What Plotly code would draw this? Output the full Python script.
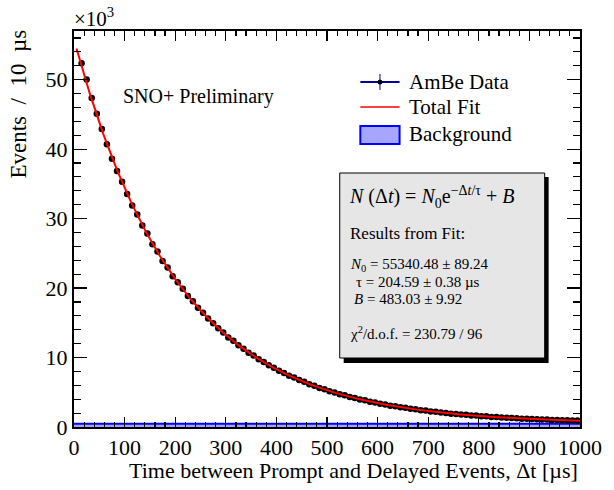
import numpy as np
import plotly.graph_objects as go

# ---------------- data ----------------
bin_width = 10.0
time_centers = [15 + 10 * i for i in range(99)]  # bin centres (us), first bin (0-10) empty/not shown
counts = [
    52350, 50020, 47350, 45100, 42900, 40700, 38600, 36850, 35300, 33550,
    31900, 30600, 29000, 27850, 26300, 25250, 23900, 22950, 21700, 20850,
    19900, 18850, 18100, 17150, 16450, 15600, 14950, 14200, 13620, 12900,
    12400, 11750, 11280, 10700, 10290, 9750, 9370, 8880, 8540, 8100,
    7790, 7390, 7120, 6750, 6500, 6160, 5940, 5630, 5430, 5150,
    4980, 4710, 4560, 4320, 4180, 3960, 3840, 3630, 3530, 3340,
    3250, 3070, 2990, 2830, 2760, 2610, 2550, 2410, 2360, 2230,
    2180, 2070, 2030, 1920, 1880, 1790, 1750, 1660, 1640, 1550,
    1530, 1450, 1430, 1360, 1345, 1280, 1265, 1200, 1195, 1135,
    1130, 1070, 1070, 1015, 1020, 965, 970, 920, 925,
]

# fit parameters (as printed on the chart)
N0, N0_err = 55340.48, 89.24
TAU, TAU_err = 204.59, 0.38
BKG, BKG_err = 483.03, 9.92
CHI2, NDOF = 230.79, 96
FIT_RANGE = [5, 1000]

bkg_edges = [10 * i for i in range(101)]
bkg_values = [BKG] * 101

x_ticks = list(range(0, 1001, 100))
y_ticks = [0, 10000, 20000, 30000, 40000, 50000]
y_ticktext = ["0", "10", "20", "30", "40", "50"]

# ---------------- figure ----------------
FONT = "Liberation Serif"
W, H = 614, 490
L, R, T, B = 74, 590, 31, 427  # plot frame in pixels


def px(x):
    return (x - L) / (R - L)


def py(y):
    return (B - y) / (B - T)


fig = go.Figure()

# background histogram
fig.add_trace(go.Scatter(
    x=bkg_edges, y=bkg_values, mode="lines", line_shape="hv",
    line=dict(color="rgb(0,0,255)", width=2),
    fill="tozeroy", fillcolor="rgb(166,166,255)", showlegend=False,
    hoverinfo="skip",
))

# data
err_y = [float(np.sqrt(c)) for c in counts]
fig.add_trace(go.Scatter(
    x=time_centers, y=counts, mode="markers",
    marker=dict(color="black", size=6.5),
    error_y=dict(type="data", array=err_y, color="black", thickness=1, width=0),
    error_x=dict(type="constant", value=bin_width / 2, color="black", thickness=1.2, width=0),
    showlegend=False,
))

# fit curve
xf = np.linspace(FIT_RANGE[0], FIT_RANGE[1], 600)
yf = N0 * np.exp(-xf / TAU) + BKG
fig.add_trace(go.Scatter(
    x=xf, y=yf, mode="lines", line=dict(color="red", width=2), showlegend=False,
))

axis_common = dict(
    showline=True, linecolor="black", linewidth=2, mirror="allticks",
    ticks="inside", tickcolor="black", tickwidth=1.2,
    showgrid=False, zeroline=False,
    tickfont=dict(family=FONT, size=22, color="black"),
)

fig.update_xaxes(
    range=[0, 1000], tickvals=x_ticks, ticklen=10,
    minor=dict(dtick=20, ticks="inside", ticklen=5, tickcolor="black", tickwidth=1.2, showgrid=False),
    **axis_common,
)
fig.update_yaxes(
    range=[0, 57000], tickvals=y_ticks, ticktext=y_ticktext, ticklen=13,
    minor=dict(dtick=2000, ticks="inside", ticklen=7, tickcolor="black", tickwidth=1.2, showgrid=False),
    **axis_common,
)

shapes = []
ann = []


def text(x, y, s, size, xanchor="left", yanchor="middle", textangle=0):
    ann.append(dict(
        xref="paper", yref="paper", x=px(x), y=py(y), text=s, showarrow=False,
        xanchor=xanchor, yanchor=yanchor, textangle=textangle,
        font=dict(family=FONT, size=size, color="black"),
    ))


def rect(x0, y0, x1, y1, fill, line_color, lw):
    shapes.append(dict(
        type="rect", xref="paper", yref="paper",
        x0=px(x0), x1=px(x1), y0=py(y1), y1=py(y0),
        fillcolor=fill, line=dict(color=line_color, width=lw), layer="above",
    ))


def line(x0, y0, x1, y1, color, lw):
    shapes.append(dict(
        type="line", xref="paper", yref="paper",
        x0=px(x0), x1=px(x1), y0=py(y0), y1=py(y1),
        line=dict(color=color, width=lw), layer="above",
    ))


# axis titles (ROOT style, right-aligned)
text(R, 470, "Time between Prompt and Delayed Events, Δt [µs]", 22, xanchor="right")
text(17, T - 3, "Events&nbsp;&nbsp;/&nbsp;&nbsp;10&nbsp;&nbsp;µs", 23, xanchor="center", yanchor="top", textangle=-90)
text(72, 17, "×10<sup>3</sup>", 21)

# label
text(122, 97, "SNO+ Preliminary", 20)

# legend
line(366, 82, 406, 82, "rgb(0,0,153)", 2)
line(386, 74, 386, 90, "rgb(0,0,153)", 1)
shapes.append(dict(type="circle", xref="paper", yref="paper",
                   x0=px(383.5), x1=px(388.5), y0=py(84.5), y1=py(79.5),
                   fillcolor="black", line=dict(color="black", width=0), layer="above"))
text(414, 82, "AmBe Data", 21)
line(366, 107, 406, 107, "red", 1.5)
text(414, 107, "Total Fit", 21)
rect(366, 126, 406, 144, "rgb(166,166,255)", "rgb(0,0,255)", 2)
text(414, 134, "Background", 21)

# fit box
rect(349, 177, 558, 363, "black", "black", 0)
rect(345, 173, 554, 358, "rgb(230,230,230)", "black", 1)
text(352, 197, "<i>N</i> (Δ<i>t</i>) = <i>N</i><sub>0</sub>e<sup>−Δ<i>t</i>/τ</sup> + <i>B</i>", 20)
text(353, 233, "Results from Fit:", 17)
text(353, 265, f"<i>N</i><sub>0</sub> = {N0:.2f} ± {N0_err:.2f}", 15)
text(360, 282, f"τ = {TAU:.2f} ± {TAU_err:.2f} µs", 15)
text(358, 299, f"<i>B</i> = {BKG:.2f} ± {BKG_err:.2f}", 15)
text(353, 333, f"χ<sup>2</sup>/d.o.f. = {CHI2:.2f} / {NDOF}", 15)

fig.update_layout(
    width=W, height=H, autosize=False,
    margin=dict(l=L, r=W - R, t=T, b=H - B, pad=0),
    paper_bgcolor="white", plot_bgcolor="white",
    showlegend=False, shapes=shapes, annotations=ann,
    font=dict(family=FONT, color="black"),
)

fig.write_html(
    "out.html",
    config={"displayModeBar": False, "staticPlot": True},
    post_script="document.body.style.margin='0';document.body.style.overflow='hidden';",
)
